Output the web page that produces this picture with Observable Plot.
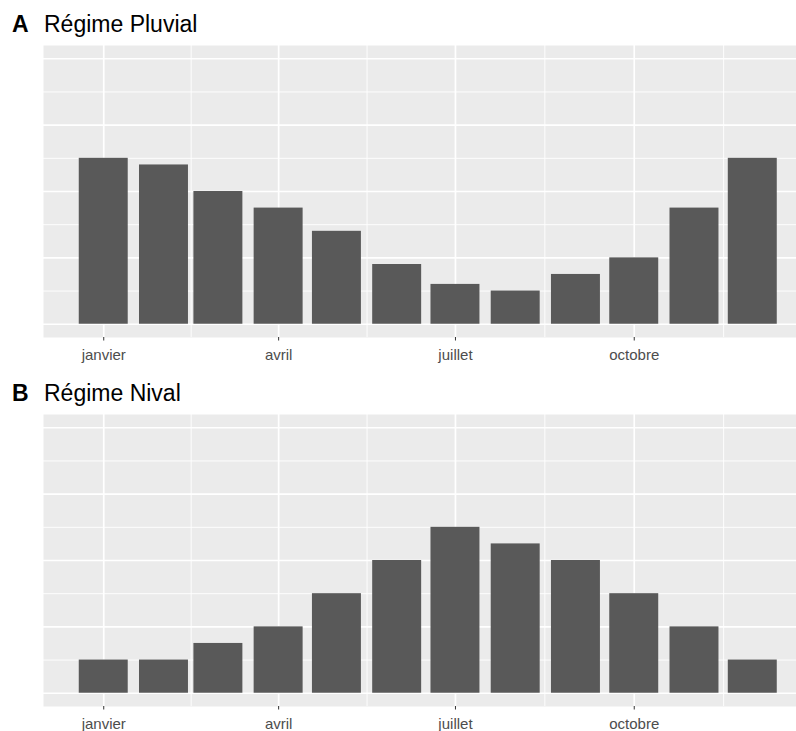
<!DOCTYPE html>
<html>
<head>
<meta charset="utf-8">
<script src="https://cdn.jsdelivr.net/npm/d3@7"></script>
<script src="https://cdn.jsdelivr.net/npm/@observablehq/plot@0.6"></script>
<style>
  body { margin: 0; background: #fff; overflow: hidden; }
  #chart { position: relative; width: 796px; height: 731px; font-family: "Liberation Sans", Arial, sans-serif; }
  .tag { position: absolute; font-size: 23px; color: #000; white-space: nowrap; line-height: 1; }
  .tag b { position: absolute; left: -32px; }
  .panel { position: absolute; left: 0; }
</style>
</head>
<body>
<div id="chart">
  <div class="tag" style="left:44px; top:13px"><b>A</b>Régime Pluvial</div>
  <div class="panel" id="pA" style="top:45px"></div>
  <div class="tag" style="left:44px; top:381.5px"><b>B</b>Régime Nival</div>
  <div class="panel" id="pB" style="top:414px"></div>
</div>
<script>
  // one bar per month, placed on the 1st of the month (date axis)
  const annee = 2021
  const mois = d3.range(12)
  const pluvial = [5, 4.8, 4, 3.5, 2.8, 1.8, 1.2, 1.0, 1.5, 2, 3.5, 5]
  const nival = [1, 1, 1.5, 2, 3, 4, 5, 4.5, 4, 3, 2, 1]
  const tickMois = [0, 3, 6, 9]
  const tickLabels = ["janvier", "avril", "juillet", "octobre"]

  const dates = mois.map(m => new Date(Date.UTC(annee, m, 1)))
  const majors = tickMois.map(m => new Date(Date.UTC(annee, m, 1)))
  // minor breaks halfway between major breaks (ggplot style)
  const bornes = [...majors, new Date(Date.UTC(annee + 1, 0, 1))]
  const minors = d3.pairs(bornes).map(([a, b]) => new Date((+a + +b) / 2))

  const demiBarre = 0.9 * 28 * 24 * 36e5 / 2  // geom_col width 0.9 * resolution

  function panneau(valeurs) {
    const data = dates.map((d, i) => ({date: d, value: valeurs[i]}))
    return Plot.plot({
      width: 796,
      height: 322,
      marginLeft: 43,
      marginRight: 0,
      marginTop: 0,
      marginBottom: 30,
      style: {
        backgroundColor: "white",
        fontFamily: "Liberation Sans, Arial, sans-serif",
        fontSize: "15px",
        color: "#4D4D4D",
        overflow: "visible"
      },
      x: {type: "utc", domain: [new Date(Date.UTC(annee - 1, 11, 1)), new Date(Date.UTC(annee, 11, 23, 12))]},
      y: {domain: [-0.4, 8.4], axis: null},
      marks: [
        Plot.frame({fill: "#EBEBEB", stroke: null}),
        Plot.ruleY([1, 3, 5, 7], {stroke: "white", strokeWidth: 0.9}),
        Plot.ruleX(minors, {stroke: "white", strokeWidth: 0.9}),
        Plot.ruleY([0, 2, 4, 6, 8], {stroke: "white", strokeWidth: 1.7}),
        Plot.ruleX(majors, {stroke: "white", strokeWidth: 1.7}),
        Plot.rectY(data, {
          x1: d => new Date(+d.date - demiBarre),
          x2: d => new Date(+d.date + demiBarre),
          y: "value",
          fill: "#595959"
        }),
        Plot.axisX({
          ticks: majors,
          tickFormat: (d, i) => tickLabels[i],
          tickSize: 3.5,
          tickPadding: 8,
          stroke: "#333333",
          fill: "#4D4D4D",
          label: null
        })
      ]
    })
  }

  d3.select("#pA").append(() => panneau(pluvial))
  d3.select("#pB").append(() => panneau(nival))
</script>
</body>
</html>
